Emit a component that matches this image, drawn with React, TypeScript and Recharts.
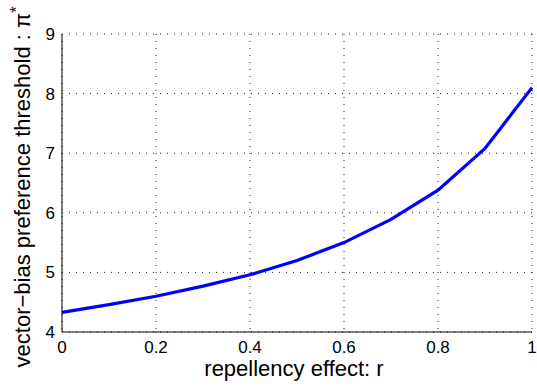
import { LineChart, Line, XAxis, YAxis, CartesianGrid, Label } from 'recharts'

const rValues = [0, 0.1, 0.2, 0.3, 0.4, 0.5, 0.6, 0.7, 0.8, 0.9, 1]
const thresholdValues = [4.33, 4.46, 4.6, 4.77, 4.96, 5.2, 5.5, 5.89, 6.38, 7.08, 8.1]
const xTicks = [0, 0.2, 0.4, 0.6, 0.8, 1]
const yTicks = [4, 5, 6, 7, 8, 9]
const xLabel = 'repellency effect: r'
const yLabel = 'vector\u2212bias preference threshold : \u03c0'

// minor tick marks like the matlab axes
const xMinor = Array.from({ length: 51 }, (_, i) => +(i * 0.02).toFixed(2))
const yMinor = Array.from({ length: 26 }, (_, i) => +(4 + i * 0.2).toFixed(1))

const data = rValues.map((r, i) => ({ r, threshold: thresholdValues[i] }))

const font = '"Liberation Sans", Arial, Helvetica, sans-serif'

function XTitle(props: any) {
    const vb = props.viewBox || { x: 62, y: 332, width: 470 }
    return (
        <text x={vb.x + vb.width / 2 - 3} y={vb.y + 44} textAnchor="middle" fontSize={22} fontFamily={font} fill="#000">
            {xLabel}
        </text>
    )
}

function YTitle() {
    const x = 30
    const y = 187
    return (
        <text x={x} y={y} transform={`rotate(-90 ${x} ${y})`} textAnchor="middle" fontSize={22} fontFamily={font} fill="#000">
            {yLabel}
            <tspan fontSize={16} dy={-8}>*</tspan>
        </text>
    )
}

export default function App() {
    const tickStyle = { fill: '#000', fontSize: 17, fontFamily: font }
    return (
        <div style={{ position: 'absolute', left: 0, top: 0, width: 537, height: 386, background: '#fff', fontFamily: font }}>
            <LineChart width={537} height={386} data={data} margin={{ top: 34, right: 5, bottom: 0, left: 0 }}>
                <CartesianGrid stroke="#222" strokeDasharray="1 6" />
                <XAxis
                    dataKey="r"
                    type="number"
                    domain={[0, 1]}
                    ticks={xTicks}
                    tickLine={false}
                    tickSize={0}
                    tickMargin={9}
                    height={54}
                    axisLine={{ stroke: '#000' }}
                    fontSize={17}
                    tick={tickStyle}
                >
                    <Label content={XTitle} />
                </XAxis>
                <XAxis xAxisId="minor" dataKey="r" type="number" domain={[0, 1]} ticks={xMinor} mirror height={0}
                    axisLine={false} tick={false} tickSize={2} tickLine={{ stroke: '#000' }} />
                <XAxis xAxisId="major" dataKey="r" type="number" domain={[0, 1]} ticks={xTicks} mirror height={0}
                    axisLine={false} tick={false} tickSize={5} tickLine={{ stroke: '#000' }} />
                <YAxis
                    type="number"
                    domain={[4, 9]}
                    ticks={yTicks}
                    tickLine={false}
                    tickSize={0}
                    tickMargin={7}
                    width={62}
                    axisLine={{ stroke: '#000' }}
                    fontSize={17}
                    tick={tickStyle}
                >
                    <Label content={YTitle} />
                </YAxis>
                <YAxis yAxisId="minor" type="number" domain={[4, 9]} ticks={yMinor} mirror width={0}
                    axisLine={false} tick={false} tickSize={2} tickLine={{ stroke: '#000' }} />
                <YAxis yAxisId="major" type="number" domain={[4, 9]} ticks={yTicks} mirror width={0}
                    axisLine={false} tick={false} tickSize={5} tickLine={{ stroke: '#000' }} />
                <Line
                    dataKey="threshold"
                    stroke="#0000ff"
                    strokeWidth={3.2}
                    dot={false}
                    isAnimationActive={false}
                />
            </LineChart>
        </div>
    )
}
